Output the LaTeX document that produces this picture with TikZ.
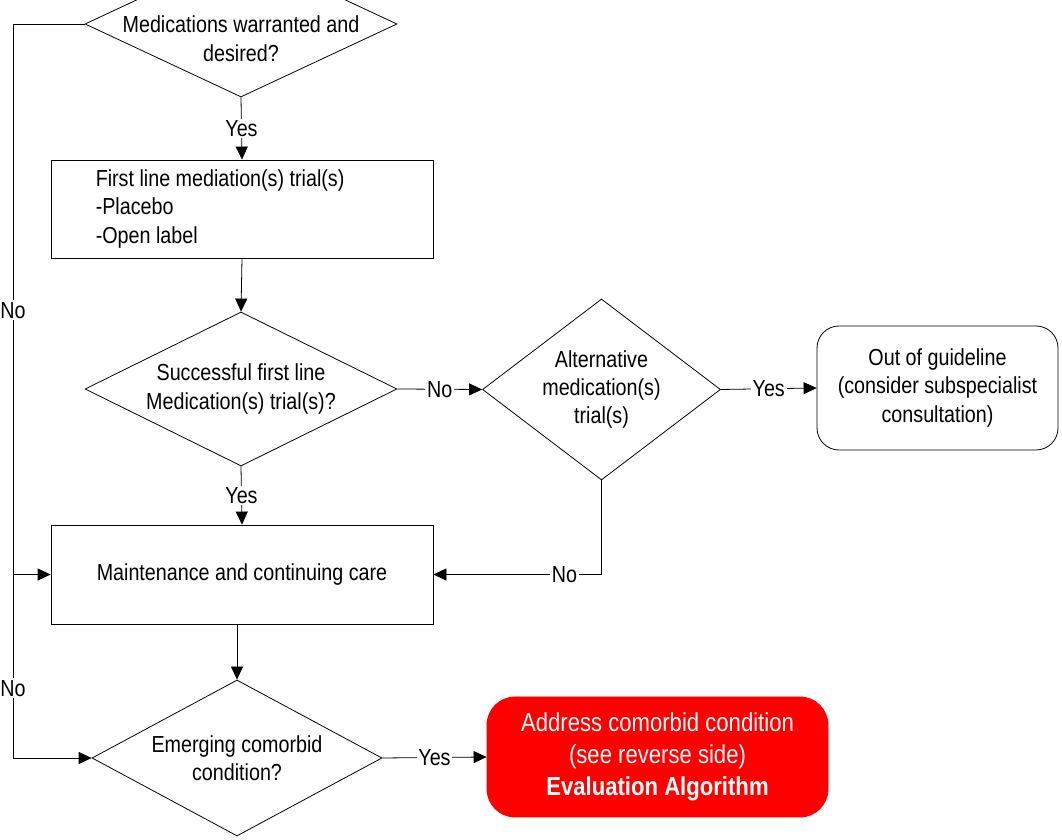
\documentclass[tikz,border=0pt]{standalone}
\usepackage{fontspec}
\setmainfont[FakeStretch=0.85]{Liberation Sans}
\usetikzlibrary{arrows.meta,shapes.geometric}

\begin{document}
\begin{tikzpicture}[>={Triangle[length=0.26cm,width=0.24cm]},
    font=\fontsize{13.2}{16.2}\selectfont, line width=0.45pt,
    decision/.style={diamond, draw, inner sep=0pt},
    procbox/.style={rectangle, draw, minimum width=7.64cm},
    endbox/.style={rectangle, rounded corners=0.44cm, draw, align=center},
    lbl/.style={fill=white, inner sep=1pt}]

    % Moldura (1062 x 840 px, 1 px = 0.02 cm)
    \useasboundingbox (0,0) rectangle (21.24,16.8);

    % Linha da esquerda
    \def\xl{0.26}

    % Decisões (losangos vazios + texto por cima)
    \node[decision, minimum width=6.24cm, minimum height=2.92cm] (medwant) at (4.82,16.32) {};
    \node[align=center] (medwanttxt) at (4.82,16.03) {Medications warranted and\\desired?};
    \node[decision, minimum width=6.24cm, minimum height=3.08cm] (success) at (4.82,9.02) {};
    \node[align=center] (successtxt) at (success) {Successful first line\\Medication(s) trial(s)?};
    \node[decision, minimum width=4.76cm, minimum height=3.62cm] (altmed) at (12.03,9.01) {};
    \node[align=center] (altmedtxt) at (altmed) {Alternative\\medication(s)\\trial(s)};
    \node[decision, minimum width=5.8cm, minimum height=3.12cm] (emerg) at (4.74,1.64) {};
    \node[align=center] (emergtxt) at (emerg) {Emerging comorbid\\condition?};

    % Caixas
    \node[procbox, minimum height=1.96cm] (firstline) at (4.84,12.62) {};
    \node[align=left, anchor=west] (firstlinetxt) at (1.79,12.62)
        {First line mediation(s) trial(s)\\-Placebo\\-Open label};
    \node[procbox, minimum height=1.98cm] (maint) at (4.84,5.31) {Maintenance and continuing care};
    \node[endbox, minimum width=4.82cm, minimum height=2.48cm] (outguide) at (18.75,9.04)
        {Out of guideline\\(consider subspecialist\\consultation)};
    \node[endbox, fill=red, draw=red, text=white, rounded corners=0.56cm,
          font=\fontsize{14.8}{18.2}\selectfont,
          minimum width=6.82cm, minimum height=2.4cm] (address) at (13.15,1.66)
        {Address comorbid condition\\(see reverse side)\\\textbf{Evaluation Algorithm}};

    % Setas principais
    \draw[->] (medwant.south) -- node[lbl] {Yes} (firstline.north);
    \draw[->] (firstline.south) -- (success.north);
    \draw[->] (success.east) -- node[lbl] {No} (altmed.west);
    \draw[->] (altmed.east) -- node[lbl] {Yes} (outguide.west);
    \draw[->] (success.south) -- node[lbl] {Yes} (maint.north);
    \draw[->] (altmed.south) |- node[lbl, pos=0.61] {No} (maint.east);
    \draw[->] (maint.south -| emerg.north) -- (emerg.north);
    \draw[->] (emerg.east) -- node[lbl] {Yes} (address.west);

    % Ramos "No" pela esquerda
    \draw[->] (medwant.west) -- (\xl,16.32) -- node[lbl, pos=0.905] {No} (\xl,1.64) -- (emerg.west);
    \draw[->] (medwant.west) -- (\xl,16.32) -- node[lbl, pos=0.52] {No} (\xl,5.31) -- (maint.west);

\end{tikzpicture}
\end{document}
